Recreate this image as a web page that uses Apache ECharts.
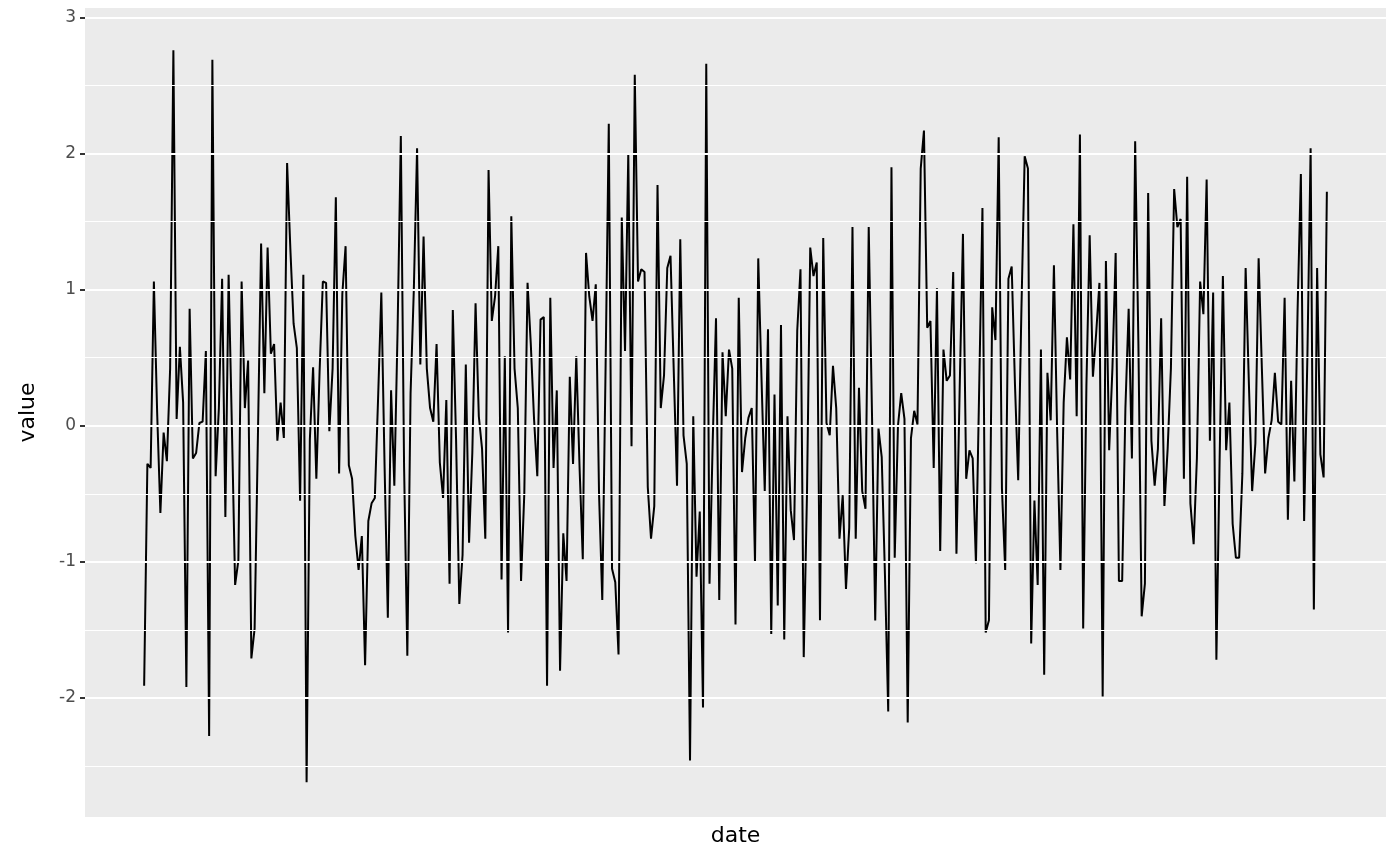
<!DOCTYPE html>
<html>
<head>
<meta charset="utf-8">
<script src="https://cdn.jsdelivr.net/npm/echarts@6/dist/echarts.min.js"></script>
<style>html,body{margin:0;padding:0;background:#fff}#c{width:1400px;height:866px}</style>
</head>
<body>
<div id="c"></div>
<script>
const values = [
-1.91,-0.28,-0.31,1.06,0.1,-0.64,-0.05,-0.26,0.42,2.76,
0.05,0.58,0.17,-1.92,0.86,-0.24,-0.2,0.02,0.03,0.55,
-2.28,2.69,-0.37,0.13,1.08,-0.67,1.11,0.0,-1.17,-0.99,
1.06,0.13,0.48,-1.71,-1.49,-0.1,1.34,0.24,1.31,0.53,
0.6,-0.11,0.17,-0.09,1.93,1.3,0.75,0.57,-0.55,1.11,
-2.62,-0.1,0.43,-0.39,0.4,1.06,1.05,-0.04,0.42,1.68,
-0.35,0.97,1.32,-0.29,-0.39,-0.81,-1.06,-0.81,-1.76,-0.7,
-0.57,-0.53,0.2,0.98,-0.3,-1.41,0.26,-0.44,0.7,2.13,
-0.3,-1.69,0.24,1.0,2.04,0.45,1.39,0.42,0.13,0.03,
0.6,-0.27,-0.53,0.19,-1.16,0.85,-0.1,-1.31,-0.95,0.45,
-0.86,-0.2,0.9,0.07,-0.17,-0.83,1.88,0.77,0.95,1.32,
-1.13,0.51,-1.52,1.54,0.42,0.13,-1.14,-0.5,1.05,0.6,
0.05,-0.37,0.78,0.8,-1.91,0.94,-0.31,0.26,-1.8,-0.79,
-1.14,0.36,-0.28,0.51,-0.3,-0.98,1.27,0.95,0.77,1.04,
-0.5,-1.28,0.4,2.22,-1.05,-1.15,-1.68,1.53,0.55,2.0,
-0.15,2.58,1.06,1.15,1.13,-0.45,-0.83,-0.59,1.77,0.13,
0.37,1.16,1.25,0.4,-0.44,1.37,-0.07,-0.28,-2.46,0.07,
-1.11,-0.63,-2.07,2.66,-1.16,-0.1,0.79,-1.28,0.54,0.07,
0.56,0.42,-1.46,0.94,-0.34,-0.09,0.06,0.13,-1.0,1.23,
0.35,-0.48,0.71,-1.53,0.23,-1.32,0.74,-1.57,0.07,-0.62,
-0.84,0.7,1.15,-1.7,-0.5,1.31,1.1,1.2,-1.43,1.38,
0.02,-0.07,0.44,0.13,-0.83,-0.51,-1.2,-0.75,1.46,-0.83,
0.28,-0.48,-0.61,1.46,0.1,-1.43,-0.02,-0.23,-1.1,-2.1,
1.9,-0.97,0.0,0.24,0.05,-2.18,-0.09,0.11,0.01,1.89,
2.17,0.72,0.77,-0.31,1.01,-0.92,0.56,0.33,0.37,1.13,
-0.94,0.28,1.41,-0.39,-0.18,-0.24,-1.01,0.28,1.6,-1.52,
-1.43,0.87,0.63,2.12,-0.46,-1.06,1.08,1.17,0.31,-0.4,
0.86,1.98,1.89,-1.6,-0.55,-1.17,0.56,-1.83,0.39,0.04,
1.18,-0.05,-1.06,0.17,0.65,0.34,1.48,0.07,2.14,-1.49,
0.3,1.4,0.36,0.68,1.05,-1.99,1.21,-0.18,0.42,1.27,
-1.14,-1.14,0.13,0.86,-0.24,2.09,0.6,-1.4,-1.16,1.71,
-0.11,-0.44,-0.17,0.79,-0.59,-0.17,0.42,1.74,1.46,1.52,
-0.39,1.83,-0.57,-0.87,-0.24,1.06,0.82,1.81,-0.11,0.98,
-1.72,-0.24,1.1,-0.18,0.17,-0.72,-0.97,-0.97,-0.35,1.16,
0.31,-0.48,-0.13,1.23,0.42,-0.35,-0.09,0.04,0.39,0.03,
0.01,0.94,-0.69,0.33,-0.41,0.86,1.85,-0.7,0.5,2.04,
-1.35,1.16,-0.21,-0.38,1.72
];
const yMajor = [-2, -1, 0, 1, 2, 3];
const yMinor = [-2.5, -1.5, -0.5, 0.5, 1.5, 2.5];
const xName = 'date';
const yName = 'value';

const n = values.length;
const pad = (n - 1) * 0.05;
const chart = echarts.init(document.getElementById('c'), null, {renderer: 'canvas'});
const font = 'DejaVu Sans';
chart.setOption({
  animation: false,
  backgroundColor: '#ffffff',
  grid: {left: 85, right: 14, top: 8, bottom: 49, show: true, backgroundColor: '#EBEBEB', borderWidth: 0},
  xAxis: {
    type: 'value', min: -pad, max: n - 1 + pad,
    axisLine: {show: false}, axisTick: {show: false}, axisLabel: {show: false}, splitLine: {show: false},
    name: xName, nameLocation: 'middle', nameGap: 8,
    nameTextStyle: {fontFamily: font, fontSize: 22, color: '#000'}
  },
  yAxis: {
    type: 'value', min: -2.875, max: 3.07,
    axisLine: {show: true, onZero: false, lineStyle: {color: '#EBEBEB', width: 0, opacity: 0}},
    axisTick: {show: true, inside: false, length: 5, lineStyle: {color: '#333333', width: 2, opacity: 1}, customValues: yMajor},
    axisLabel: {fontFamily: font, fontSize: 17, color: '#4D4D4D', margin: 9, customValues: yMajor},
    splitLine: {show: false},
    name: yName, nameLocation: 'middle', nameGap: 46,
    nameTextStyle: {fontFamily: font, fontSize: 22, color: '#000'}
  },
  series: [
    {
      type: 'line', data: [], z: 1, silent: true,
      markLine: {
        silent: true, symbol: 'none', label: {show: false}, animation: false,
        data: yMinor.map(v => ({yAxis: v, lineStyle: {color: '#ffffff', width: 1.1, type: 'solid'}}))
          .concat(yMajor.map(v => ({yAxis: v, lineStyle: {color: '#ffffff', width: 2.2, type: 'solid'}})))
      }
    },
    {
      type: 'line', z: 3,
      data: values.map((v, i) => [i, v]),
      showSymbol: false, symbol: 'none',
      lineStyle: {color: '#000000', width: 2},
      itemStyle: {color: '#000000'}
    }
  ]
});
</script>
</body>
</html>
